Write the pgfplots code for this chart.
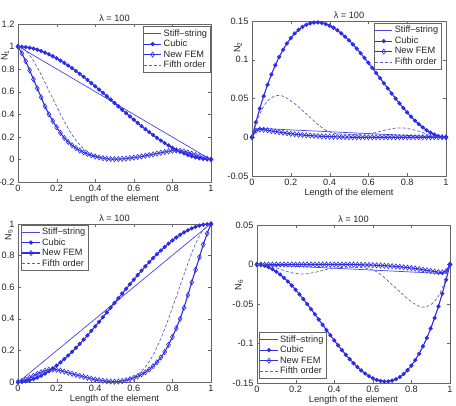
\documentclass[border=0pt]{standalone}
\usepackage{fontspec}
\setmainfont{Liberation Sans}
\usepackage{pgfplots}
\pgfplotsset{compat=1.18}
\newcommand\fs{\fontsize{9.2}{10.5}\selectfont}
\definecolor{cb}{RGB}{45,45,230}
\definecolor{cs}{RGB}{70,70,225}
\definecolor{cf}{RGB}{95,95,200}
\pgfplotsset{
  pan/.style={scale only axis, width=193pt, height=158pt, xmin=0, xmax=1,
    clip mode=individual,
    xtick={0,0.2,0.4,0.6,0.8,1},
    tick align=inside, major tick length=3pt,
    axis line style={black!60}, tick style={black!60},
    tick label style={font=\fs, text=black!85},
    /pgf/number format/assume math mode=true,
    yticklabel style={/pgf/number format/fixed, /pgf/number format/precision=2},
    xticklabel style={/pgf/number format/fixed, /pgf/number format/precision=2},
    scaled y ticks=false,
    xlabel={Length of the element},
    xlabel style={font=\fs, text=black!85, at={(axis description cs:0.5,0)}, anchor=center, yshift=-17pt},
    label style={font=\fs, text=black!85},
    legend style={font=\fs, draw=black!60, inner sep=0.8pt, row sep=-1.5pt, legend cell align=left, text=black!85},
  },
  stiff/.style={cs, line width=0.7pt, no marks},
  cubic/.style={cb, line width=1.1pt, mark=*, mark size=1.5pt},
  newfem/.style={cb, line width=1.1pt, mark=diamond, mark size=2.6pt, mark options={line width=0.6pt}},
  fifth/.style={cf, line width=0.7pt, dash pattern=on 3pt off 2pt, no marks},
}
\newcommand\ttl{\node[font=\fs, text=black!85, anchor=center, inner sep=0pt] at (rel axis cs:0.5,1) [yshift=6pt] {λ = 100};}
\begin{document}
\begin{tikzpicture}
\useasboundingbox (0,0) rectangle (456pt,406pt);
% ---------------- N1 ----------------
\begin{axis}[pan, at={(18pt,224pt)}, anchor=south west,
  ymin=-0.2, ymax=1.2, ytick={-0.2,0,0.2,0.4,0.6,0.8,1,1.2},
  ylabel={N\textsubscript{1}}, ylabel style={at={(axis description cs:-0.067,0.80)}, anchor=center},
  legend style={at={(axis description cs:0.995,0.985)}, anchor=north east}]
\addplot[stiff] coordinates {(0,1) (0.02,0.983) (0.5,0.5) (0.98,0.017) (1,0)};
\addplot[cubic] coordinates {(0,1) (0.02,0.9988) (0.04,0.9953) (0.06,0.9896) (0.08,0.9818) (0.10,0.972) (0.12,0.9603) (0.14,0.9467) (0.16,0.9314) (0.18,0.9145) (0.20,0.896) (0.22,0.8761) (0.24,0.8548) (0.26,0.8324) (0.28,0.8087) (0.30,0.784) (0.32,0.7583) (0.34,0.7318) (0.36,0.7045) (0.38,0.6765) (0.40,0.648) (0.42,0.6190) (0.44,0.5896) (0.46,0.5599) (0.48,0.5300) (0.50,0.5) (0.52,0.4700) (0.54,0.4401) (0.56,0.4104) (0.58,0.3810) (0.60,0.352) (0.62,0.3235) (0.64,0.2955) (0.66,0.2682) (0.68,0.2417) (0.70,0.216) (0.72,0.1913) (0.74,0.1676) (0.76,0.1452) (0.78,0.1239) (0.80,0.104) (0.82,0.0855) (0.84,0.0686) (0.86,0.0533) (0.88,0.0397) (0.90,0.028) (0.92,0.0182) (0.94,0.0104) (0.96,0.0047) (0.98,0.0012) (1,0)};
\addplot[newfem] coordinates {(0,1) (0.02,0.94) (0.04,0.87) (0.06,0.79) (0.08,0.71) (0.10,0.63) (0.12,0.55) (0.14,0.47) (0.16,0.40) (0.18,0.34) (0.20,0.285) (0.22,0.235) (0.24,0.19) (0.26,0.155) (0.28,0.125) (0.30,0.10) (0.32,0.079) (0.34,0.062) (0.36,0.048) (0.38,0.036) (0.40,0.026) (0.42,0.018) (0.44,0.011) (0.46,0.006) (0.48,0.003) (0.50,0.002) (0.52,0.003) (0.54,0.005) (0.56,0.008) (0.58,0.012) (0.60,0.016) (0.62,0.021) (0.64,0.027) (0.66,0.033) (0.68,0.039) (0.70,0.045) (0.72,0.052) (0.74,0.059) (0.76,0.066) (0.78,0.072) (0.80,0.077) (0.82,0.079) (0.84,0.077) (0.86,0.071) (0.88,0.062) (0.90,0.051) (0.92,0.039) (0.94,0.027) (0.96,0.016) (0.98,0.007) (1,0)};
\addplot[fifth] coordinates {(0,1) (0.02,0.99) (0.04,0.965) (0.06,0.925) (0.08,0.875) (0.10,0.815) (0.12,0.75) (0.14,0.68) (0.16,0.61) (0.18,0.54) (0.20,0.47) (0.22,0.40) (0.24,0.335) (0.26,0.275) (0.28,0.22) (0.30,0.17) (0.32,0.13) (0.34,0.095) (0.36,0.068) (0.38,0.048) (0.40,0.033) (0.42,0.022) (0.44,0.014) (0.46,0.008) (0.50,0.004) (0.55,0.006) (0.60,0.016) (0.65,0.03) (0.70,0.046) (0.75,0.064) (0.80,0.076) (0.84,0.075) (0.88,0.06) (0.92,0.038) (0.96,0.015) (1,0)};
\legend{Stiff--string, Cubic, New FEM, Fifth order}
\ttl
\end{axis}
% ---------------- N2 ----------------
\begin{axis}[pan, at={(252pt,230pt)}, anchor=south west, width=194pt, height=155pt,
  ymin=-0.05, ymax=0.15, ytick={-0.05,0,0.05,0.1,0.15},
  ylabel={N\textsubscript{2}}, ylabel style={at={(axis description cs:-0.072,0.83)}, anchor=center},
  legend style={at={(axis description cs:0.975,0.985)}, anchor=north east}]
\addplot[stiff] coordinates {(0,0) (0.01,0.0075) (0.02,0.0102) (0.03,0.0111) (0.04,0.0114) (0.1,0.0107) (0.5,0.0059) (0.9,0.0012) (1,0)};
\addplot[cubic] coordinates {(0,0) (0.02,0.019208) (0.04,0.036864) (0.06,0.053016) (0.08,0.067712) (0.10,0.081) (0.12,0.092928) (0.14,0.103544) (0.16,0.112896) (0.18,0.121032) (0.20,0.128) (0.22,0.133848) (0.24,0.138624) (0.26,0.142376) (0.28,0.145152) (0.30,0.147) (0.32,0.147968) (0.34,0.148104) (0.36,0.147456) (0.38,0.146072) (0.40,0.144) (0.42,0.141288) (0.44,0.137984) (0.46,0.134136) (0.48,0.129792) (0.50,0.125) (0.52,0.119808) (0.54,0.114264) (0.56,0.108416) (0.58,0.102312) (0.60,0.096) (0.62,0.089528) (0.64,0.082944) (0.66,0.076296) (0.68,0.069632) (0.70,0.063) (0.72,0.056448) (0.74,0.050024) (0.76,0.043776) (0.78,0.037752) (0.80,0.032) (0.82,0.026568) (0.84,0.021504) (0.86,0.016856) (0.88,0.012672) (0.90,0.009) (0.92,0.005888) (0.94,0.003384) (0.96,0.001536) (0.98,0.000392) (1,0)};
\addplot[newfem] coordinates {(0,0) (0.02,0.0085) (0.04,0.0100) (0.06,0.0097) (0.08,0.0090) (0.10,0.0082) (0.12,0.0074) (0.14,0.0066) (0.16,0.0058) (0.18,0.0051) (0.20,0.0045) (0.22,0.0039) (0.24,0.0034) (0.26,0.0029) (0.28,0.0025) (0.30,0.0021) (0.32,0.0018) (0.34,0.0015) (0.36,0.0012) (0.38,0.0010) (0.40,0.0008) (0.42,0.0006) (0.44,0.0005) (0.46,0.0003) (0.48,0.0002) (0.50,0.0001) (0.52,0) (0.54,0) (0.56,0) (0.58,0) (0.60,0) (0.62,0) (0.64,0) (0.66,0) (0.68,0) (0.70,0) (0.72,0) (0.74,0) (0.76,0) (0.78,0) (0.80,0) (0.82,0) (0.84,0) (0.86,0) (0.88,0) (0.90,0) (0.92,0) (0.94,0) (0.96,0) (0.98,0) (1,0)};
\addplot[fifth] coordinates {(0,0) (0.02,0.017) (0.04,0.030) (0.06,0.040) (0.08,0.047) (0.10,0.051) (0.12,0.0535) (0.14,0.054) (0.16,0.0530) (0.18,0.0505) (0.20,0.047) (0.22,0.0435) (0.24,0.039) (0.26,0.0345) (0.28,0.030) (0.30,0.0255) (0.32,0.021) (0.34,0.0165) (0.36,0.0125) (0.38,0.0092) (0.40,0.0068) (0.42,0.0052) (0.45,0.0042) (0.50,0.0036) (0.55,0.0036) (0.60,0.0045) (0.63,0.0056) (0.66,0.0075) (0.70,0.0100) (0.74,0.0118) (0.78,0.0120) (0.82,0.0105) (0.86,0.0078) (0.90,0.0040) (0.93,0.0012) (0.96,0.0001) (1,0)};
\legend{Stiff--string, Cubic, New FEM, Fifth order}
\ttl
\end{axis}
% ---------------- N5 ----------------
\begin{axis}[pan, at={(18pt,24pt)}, anchor=south west,
  ymin=0, ymax=1, ytick={0,0.2,0.4,0.6,0.8,1},
  ylabel={N\textsubscript{5}}, ylabel style={at={(axis description cs:-0.047,0.93)}, anchor=center},
  legend style={at={(axis description cs:0.015,0.995)}, anchor=north west}]
\addplot[stiff] coordinates {(0,0) (0.02,0.017) (0.5,0.5) (0.98,0.983) (1,1)};
\addplot[cubic] coordinates {(0,0) (0.02,0.0012) (0.04,0.0047) (0.06,0.0104) (0.08,0.0182) (0.10,0.028) (0.12,0.0397) (0.14,0.0533) (0.16,0.0686) (0.18,0.0855) (0.20,0.104) (0.22,0.1239) (0.24,0.1452) (0.26,0.1676) (0.28,0.1913) (0.30,0.216) (0.32,0.2417) (0.34,0.2682) (0.36,0.2955) (0.38,0.3235) (0.40,0.352) (0.42,0.3810) (0.44,0.4104) (0.46,0.4401) (0.48,0.4700) (0.50,0.5) (0.52,0.5300) (0.54,0.5599) (0.56,0.5896) (0.58,0.6190) (0.60,0.648) (0.62,0.6765) (0.64,0.7045) (0.66,0.7318) (0.68,0.7583) (0.70,0.784) (0.72,0.8087) (0.74,0.8324) (0.76,0.8548) (0.78,0.8761) (0.80,0.896) (0.82,0.9145) (0.84,0.9314) (0.86,0.9467) (0.88,0.9603) (0.90,0.972) (0.92,0.9818) (0.94,0.9896) (0.96,0.9953) (0.98,0.9988) (1,1)};
\addplot[newfem] coordinates {(0,0) (0.02,0.007) (0.04,0.016) (0.06,0.027) (0.08,0.039) (0.10,0.051) (0.12,0.062) (0.14,0.071) (0.16,0.077) (0.18,0.079) (0.20,0.077) (0.22,0.072) (0.24,0.066) (0.26,0.059) (0.28,0.052) (0.30,0.045) (0.32,0.039) (0.34,0.033) (0.36,0.027) (0.38,0.021) (0.40,0.016) (0.42,0.012) (0.44,0.008) (0.46,0.005) (0.48,0.003) (0.50,0.002) (0.52,0.003) (0.54,0.006) (0.56,0.011) (0.58,0.018) (0.60,0.026) (0.62,0.036) (0.64,0.048) (0.66,0.062) (0.68,0.079) (0.70,0.10) (0.72,0.125) (0.74,0.155) (0.76,0.19) (0.78,0.235) (0.80,0.285) (0.82,0.34) (0.84,0.40) (0.86,0.47) (0.88,0.55) (0.90,0.63) (0.92,0.71) (0.94,0.79) (0.96,0.87) (0.98,0.94) (1,1)};
\addplot[fifth] coordinates {(0,0) (0.04,0.015) (0.08,0.038) (0.12,0.06) (0.16,0.075) (0.20,0.076) (0.25,0.064) (0.30,0.046) (0.35,0.03) (0.40,0.016) (0.45,0.006) (0.50,0.004) (0.54,0.008) (0.56,0.014) (0.58,0.022) (0.60,0.033) (0.62,0.048) (0.64,0.068) (0.66,0.095) (0.68,0.13) (0.70,0.17) (0.72,0.22) (0.74,0.275) (0.76,0.335) (0.78,0.40) (0.80,0.47) (0.82,0.54) (0.84,0.61) (0.86,0.68) (0.88,0.75) (0.90,0.815) (0.92,0.875) (0.94,0.925) (0.96,0.965) (0.98,0.99) (1,1)};
\legend{Stiff--string, Cubic, New FEM, Fifth order}
\ttl
\end{axis}
% ---------------- N6 ----------------
\begin{axis}[pan, at={(257pt,23pt)}, anchor=south west,
  ymin=-0.15, ymax=0.05, ytick={-0.15,-0.1,-0.05,0,0.05},
  ylabel={N\textsubscript{6}}, ylabel style={at={(axis description cs:-0.093,0.62)}, anchor=center},
  legend style={at={(axis description cs:0.01,0.03)}, anchor=south west}]
\addplot[stiff] coordinates {(0,0) (0.1,-0.0012) (0.5,-0.0059) (0.9,-0.0107) (0.96,-0.0114) (0.97,-0.0111) (0.98,-0.0102) (0.99,-0.0075) (1,0)};
\addplot[cubic] coordinates {(0,0) (0.02,-0.000392) (0.04,-0.001536) (0.06,-0.003384) (0.08,-0.005888) (0.10,-0.009) (0.12,-0.012672) (0.14,-0.016856) (0.16,-0.021504) (0.18,-0.026568) (0.20,-0.032) (0.22,-0.037752) (0.24,-0.043776) (0.26,-0.050024) (0.28,-0.056448) (0.30,-0.063) (0.32,-0.069632) (0.34,-0.076296) (0.36,-0.082944) (0.38,-0.089528) (0.40,-0.096) (0.42,-0.102312) (0.44,-0.108416) (0.46,-0.114264) (0.48,-0.119808) (0.50,-0.125) (0.52,-0.129792) (0.54,-0.134136) (0.56,-0.137984) (0.58,-0.141288) (0.60,-0.144) (0.62,-0.146072) (0.64,-0.147456) (0.66,-0.148104) (0.68,-0.147968) (0.70,-0.147) (0.72,-0.145152) (0.74,-0.142376) (0.76,-0.138624) (0.78,-0.133848) (0.80,-0.128) (0.82,-0.121032) (0.84,-0.112896) (0.86,-0.103544) (0.88,-0.092928) (0.90,-0.081) (0.92,-0.067712) (0.94,-0.053016) (0.96,-0.036864) (0.98,-0.019208) (1,0)};
\addplot[newfem] coordinates {(0,0) (0.02,0) (0.04,0) (0.06,0) (0.08,0) (0.10,0) (0.12,0) (0.14,0) (0.16,0) (0.18,0) (0.20,0) (0.22,0) (0.24,0) (0.26,0) (0.28,0) (0.30,0) (0.32,0) (0.34,0) (0.36,0) (0.38,0) (0.40,0) (0.42,0) (0.44,0) (0.46,0) (0.48,0) (0.50,-0.0001) (0.52,-0.0002) (0.54,-0.0003) (0.56,-0.0005) (0.58,-0.0006) (0.60,-0.0008) (0.62,-0.0010) (0.64,-0.0012) (0.66,-0.0015) (0.68,-0.0018) (0.70,-0.0021) (0.72,-0.0025) (0.74,-0.0029) (0.76,-0.0034) (0.78,-0.0039) (0.80,-0.0045) (0.82,-0.0051) (0.84,-0.0058) (0.86,-0.0066) (0.88,-0.0074) (0.90,-0.0082) (0.92,-0.0090) (0.94,-0.0097) (0.96,-0.0100) (0.98,-0.0085) (1,0)};
\addplot[fifth] coordinates {(0,0) (0.04,-0.0001) (0.07,-0.0012) (0.10,-0.0040) (0.14,-0.0078) (0.18,-0.0105) (0.22,-0.0120) (0.26,-0.0118) (0.30,-0.0100) (0.34,-0.0075) (0.37,-0.0056) (0.40,-0.0045) (0.45,-0.0036) (0.50,-0.0036) (0.55,-0.0042) (0.58,-0.0052) (0.60,-0.0068) (0.62,-0.0092) (0.64,-0.0125) (0.66,-0.0165) (0.68,-0.021) (0.70,-0.0255) (0.72,-0.030) (0.74,-0.0345) (0.76,-0.039) (0.78,-0.0435) (0.80,-0.047) (0.82,-0.0505) (0.84,-0.053) (0.86,-0.054) (0.88,-0.0535) (0.90,-0.051) (0.92,-0.047) (0.94,-0.040) (0.96,-0.030) (0.98,-0.017) (1,0)};
\legend{Stiff--string, Cubic, New FEM, Fifth order}
\ttl
\end{axis}
\end{tikzpicture}
\end{document}
